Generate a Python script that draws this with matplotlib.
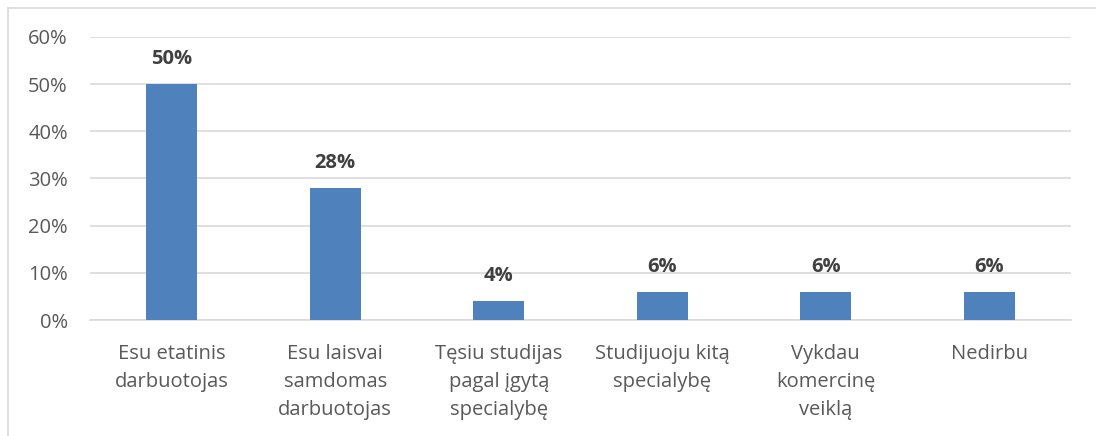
import matplotlib
matplotlib.use("Agg")
import matplotlib.pyplot as plt
from matplotlib.lines import Line2D

categories = ["Esu etatinis\ndarbuotojas", "Esu laisvai\nsamdomas\ndarbuotojas",
              "Tęsiu studijas\npagal įgytą\nspecialybę", "Studijuoju kitą\nspecialybę",
              "Vykdau\nkomercinę\nveiklą", "Nedirbu"]
values = [50, 28, 4, 6, 6, 6]
yticks = [0, 10, 20, 30, 40, 50, 60]

plt.rcParams['font.family'] = ['Open Sans', 'DejaVu Sans']

W, H = 1096, 436
fig = plt.figure(figsize=(W/100, H/100), dpi=100)
ax = fig.add_axes([90/W, 1-320/H, (1071-90)/W, (320-37)/H])

bar_color = "#4f81bd"
x = list(range(len(categories)))
bars = ax.bar(x, values, width=0.31, color=bar_color, zorder=3)
for xi, v in zip(x, values):
    ax.annotate(f"{v}%", (xi, v), xytext=(0, 18), textcoords="offset points",
                ha="center", va="center", fontsize=14.5, fontweight="bold", color="#404040")

ax.set_xlim(-0.5, len(categories)-0.5)
ax.set_ylim(0, 60)
ax.set_yticks(yticks)
ax.set_yticklabels([f"{t}%" for t in yticks])
ax.set_xticks(x)
ax.set_xticklabels(categories, linespacing=1.55)
ax.tick_params(axis="y", length=0, pad=16, labelsize=14.5, labelcolor="#595959")
ax.tick_params(axis="x", length=0, pad=17, labelsize=14.5, labelcolor="#595959")
for lab in ax.get_xticklabels():
    lab.set_va("top")
ax.grid(axis="y", color="#d9d9d9", linewidth=1.2, zorder=0)
for s in ["top", "right", "left"]:
    ax.spines[s].set_visible(False)
ax.spines["bottom"].set_color("#d9d9d9")
ax.spines["bottom"].set_linewidth(1.2)

fig.add_artist(Line2D([8/W, 1], [1-8/H, 1-8/H], color="#d9d9d9", linewidth=1.2, transform=fig.transFigure))
fig.add_artist(Line2D([8/W, 8/W], [0, 1-8/H], color="#d9d9d9", linewidth=1.2, transform=fig.transFigure))

fig.savefig("out.png", dpi=100)
